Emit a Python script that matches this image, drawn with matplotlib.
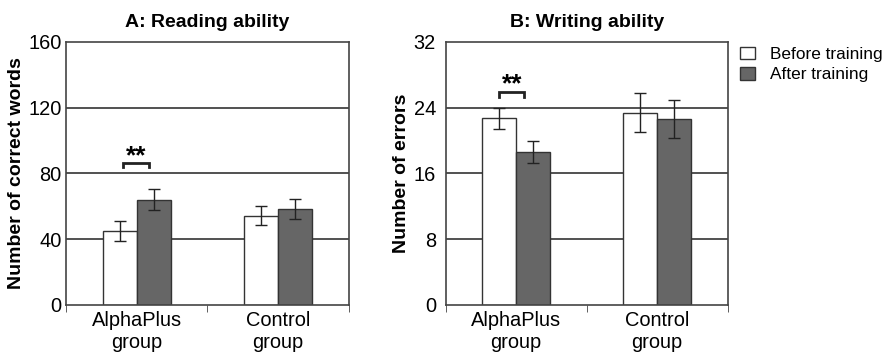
import matplotlib
matplotlib.use('Agg')
import matplotlib.pyplot as plt
import numpy as np

plt.rcParams['font.family'] = ['Liberation Sans', 'DejaVu Sans']

groups = ['AlphaPlus\ngroup', 'Control\ngroup']
series = ['Before training', 'After training']

reading_before = [45.0, 54.3]
reading_after = [64.0, 58.3]
reading_before_err = [6.2, 5.7]
reading_after_err = [6.3, 6.0]

writing_before = [22.7, 23.4]
writing_after = [18.6, 22.6]
writing_before_err = [1.25, 2.4]
writing_after_err = [1.3, 2.3]

bar_colors = ['white', '#666666']
edge = '#333333'
grid_col = '#333333'

fig = plt.figure(figsize=(8.85, 3.57), dpi=100)
axA = fig.add_axes([0.0746, 0.1457, 0.3192, 0.7367])
axB = fig.add_axes([0.5036, 0.1457, 0.3186, 0.7367])

x = np.arange(len(groups))
w = 0.24


def draw(ax, before, after, be, ae, ymax, step, title, ylabel, ypad,
         star_y, brk_y, brk_leg, brk_x):
    for yv in np.arange(step, ymax, step):
        ax.axhline(yv, color=grid_col, lw=1.2, zorder=0)
    for vals, errs, col, off in [(before, be, bar_colors[0], -w / 2),
                                 (after, ae, bar_colors[1], w / 2)]:
        ax.bar(x + off, vals, w, color=col, edgecolor=edge, lw=1.0, zorder=2)
        ax.errorbar(x + off, vals, yerr=errs, fmt='none', ecolor='#222222',
                    elinewidth=1.0, capsize=4, capthick=1.0, zorder=3)
    ax.set_xlim(-0.5, 1.5)
    ax.set_ylim(0, ymax)
    ax.set_yticks(np.arange(0, ymax + 1, step))
    ax.set_xticks(x)
    ax.set_xticklabels(groups, fontsize=14.4, linespacing=1.2)
    ax.set_xticks([-0.5, 0.5, 1.5], minor=True)
    ax.tick_params(axis='x', which='major', length=0, pad=4)
    ax.tick_params(axis='x', which='minor', length=5, direction='out', color='#444444')
    ax.tick_params(axis='y', length=0, labelsize=14.4, pad=ypad)
    for s in ax.spines.values():
        s.set_color('#444444')
        s.set_linewidth(1.2)
    ax.set_title(title, fontsize=14, fontweight='bold', pad=11)
    ax.set_ylabel(ylabel, fontsize=14, fontweight='bold', labelpad=2.5)
    x0, x1 = brk_x
    ax.plot([x0, x0, x1, x1], [brk_y - brk_leg, brk_y, brk_y, brk_y - brk_leg],
            color='#222222', lw=2.0, zorder=3, solid_joinstyle='miter')
    ax.text((x0 + x1) / 2, star_y, '**', ha='center', va='center',
            fontsize=19, fontweight='bold')


draw(axA, reading_before, reading_after, reading_before_err, reading_after_err,
     160, 40, 'A: Reading ability', 'Number of correct words', 3,
     90.5, 86.6, 2.5, (-0.1, 0.088))
draw(axB, writing_before, writing_after, writing_before_err, writing_after_err,
     32, 8, 'B: Writing ability', 'Number of errors', 7,
     26.8, 25.9, 0.55, (-0.12, 0.057))

handles = [plt.Rectangle((0, 0), 1, 1, facecolor=c, edgecolor=edge, lw=1.0)
           for c in bar_colors]
fig.legend(handles, series, loc='upper left', bbox_to_anchor=(0.836, 0.869),
           frameon=False, fontsize=12.4, handlelength=0.87, handleheight=0.74,
           handletextpad=0.9, labelspacing=0.3, borderaxespad=0, borderpad=0)

fig.savefig('out.png', dpi=100)
